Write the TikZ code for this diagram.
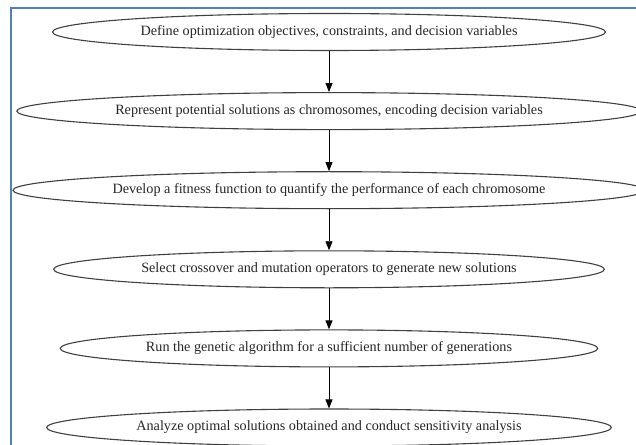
\documentclass[tikz,border=0pt]{standalone}
\usepackage{fontspec}
\setmainfont{Liberation Serif}
\usepackage{tikz}
\usetikzlibrary{shapes.geometric, arrows.meta, positioning}
\definecolor{frameblue}{HTML}{4F81BD}

\begin{document}
\begin{tikzpicture}[
    x=1bp, y=-1bp,
    auto, thick,
    stage/.style={ellipse, draw=black!75, line width=1.1bp, inner xsep=7bp, inner ysep=3bp, minimum height=37bp, font=\fontsize{14.2bp}{16bp}\selectfont, text=black!85},
    line/.style={draw, line width=0.9bp, -{Triangle[length=9bp, width=7bp]}},
    node distance=41bp
]
    \useasboundingbox (0,0) rectangle (636,445);

    % Frame
    \draw [line width=2bp, frameblue] (11,460) -- (11,8) -- (650,8);

    % Nodes
    \node (objectives) [stage] at (329,32) {Define optimization objectives, constraints, and decision variables};
    \node (encoding) [stage, below=of objectives] {Represent potential solutions as chromosomes, encoding decision variables};
    \node (fitness) [stage, below=of encoding] {Develop a fitness function to quantify the performance of each chromosome};
    \node (operators) [stage, below=of fitness] {Select crossover and mutation operators to generate new solutions};
    \node (run) [stage, below=of operators] {Run the genetic algorithm for a sufficient number of generations};
    \node (analysis) [stage, below=of run] {Analyze optimal solutions obtained and conduct sensitivity analysis};

    % Flow
    \path [line] (objectives) -- (encoding);
    \path [line] (encoding) -- (fitness);
    \path [line] (fitness) -- (operators);
    \path [line] (operators) -- (run);
    \path [line] (run) -- (analysis);

\end{tikzpicture}
\end{document}
